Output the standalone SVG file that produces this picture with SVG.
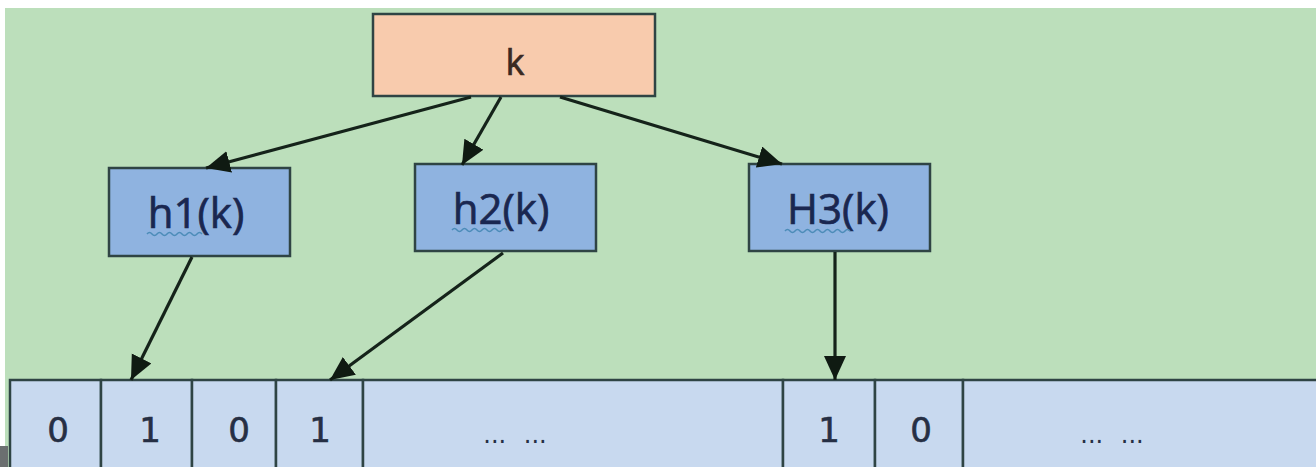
<svg xmlns="http://www.w3.org/2000/svg" width="1316" height="467" viewBox="0 0 1316 467">
  <style>
    .box { stroke: #2f4444; stroke-width: 2.5; }
    .key { fill: #F8CBAD; }
    .hash { fill: #8FB3E0; }
    .cell { fill: #C8D9EF; stroke: #2f4444; stroke-width: 2.5; }
    .lbl { font-family: "Open Sans", "Liberation Sans", sans-serif; text-anchor: middle; stroke-width: 0.7; }
    .hl { font-size: 42px; fill: #1A2750; stroke: #1A2750; }
    .kl { font-size: 36px; fill: #3A2A22; stroke: #3A2A22; }
    .dig { font-family: "DejaVu Sans", "Liberation Sans", sans-serif; font-size: 34px; text-anchor: middle; fill: #262F44; stroke: #262F44; stroke-width: 0.6; }
    .dots { font-family: "DejaVu Sans", sans-serif; font-size: 24px; text-anchor: middle; fill: #262F44; word-spacing: 10px; }
    .edge { stroke: #15231a; stroke-width: 3.2; fill: none; marker-end: url(#arr); }
    .sq { stroke: #4C8CB8; stroke-width: 1.5; fill: none; }
  </style>
  <defs>
    <marker id="arr" markerUnits="userSpaceOnUse" markerWidth="26" markerHeight="24" refX="24" refY="11" orient="auto">
      <path d="M0,0 L24,11 L0,22 z" fill="#0f1a12"/>
    </marker>
  </defs>
  <rect x="0" y="0" width="1316" height="467" fill="#ffffff"/>
  <rect x="5" y="8" width="1311" height="459" fill="#BCDFBB"/>

  <g id="node-k">
    <rect class="box key" x="373" y="14" width="282" height="82"/>
    <text class="lbl kl" x="515" y="75">k</text>
  </g>
  <g id="node-h1">
    <rect class="box hash" x="109" y="168" width="181" height="88"/>
    <text class="lbl hl" x="196" y="228">h1(k)</text>
    <path class="sq" d="M147,234 q2.5,-3 5,0 t5,0 t5,0 t5,0 t5,0 t5,0 t5,0 t5,0 t5,0 t5,0 t5,0"/>
  </g>
  <g id="node-h2">
    <rect class="box hash" x="415" y="164" width="181" height="87"/>
    <text class="lbl hl" x="501" y="224">h2(k)</text>
    <path class="sq" d="M452,230 q2.5,-3 5,0 t5,0 t5,0 t5,0 t5,0 t5,0 t5,0 t5,0 t5,0 t5,0 t5,0"/>
  </g>
  <g id="node-h3">
    <rect class="box hash" x="749" y="164" width="181" height="87"/>
    <text class="lbl hl" x="838" y="224">H3(k)</text>
    <path class="sq" d="M785,231 q2.5,-3 5,0 t5,0 t5,0 t5,0 t5,0 t5,0 t5,0 t5,0 t5,0 t5,0 t5,0 t5,0 t5,0"/>
  </g>

  <g id="bit-array">
    <rect class="cell" x="10" y="380" width="91" height="100"/>
    <rect class="cell" x="101" y="380" width="91" height="100"/>
    <rect class="cell" x="192" y="380" width="84" height="100"/>
    <rect class="cell" x="276" y="380" width="87" height="100"/>
    <rect class="cell" x="363" y="380" width="420" height="100"/>
    <rect class="cell" x="783" y="380" width="92" height="100"/>
    <rect class="cell" x="875" y="380" width="88" height="100"/>
    <rect class="cell" x="963" y="380" width="360" height="100"/>
    <text class="dig" x="58" y="442">0</text>
    <text class="dig" x="150" y="442">1</text>
    <text class="dig" x="239" y="442">0</text>
    <text class="dig" x="320" y="442">1</text>
    <text class="dots" x="515" y="443">... ...</text>
    <text class="dig" x="829" y="442">1</text>
    <text class="dig" x="921" y="442">0</text>
    <text class="dots" x="1112" y="443">... ...</text>
  </g>
  <rect x="0" y="446" width="8" height="21" fill="#6b6f70"/>

  <g id="connectors">
    <line class="edge" x1="471" y1="97" x2="206" y2="168"/>
    <line class="edge" x1="501" y1="97" x2="462" y2="165"/>
    <line class="edge" x1="560" y1="97" x2="782" y2="164"/>
    <line class="edge" x1="192" y1="257" x2="131" y2="380"/>
    <line class="edge" x1="503" y1="253" x2="330" y2="380"/>
    <line class="edge" x1="835" y1="252" x2="835" y2="380"/>
  </g>
</svg>
